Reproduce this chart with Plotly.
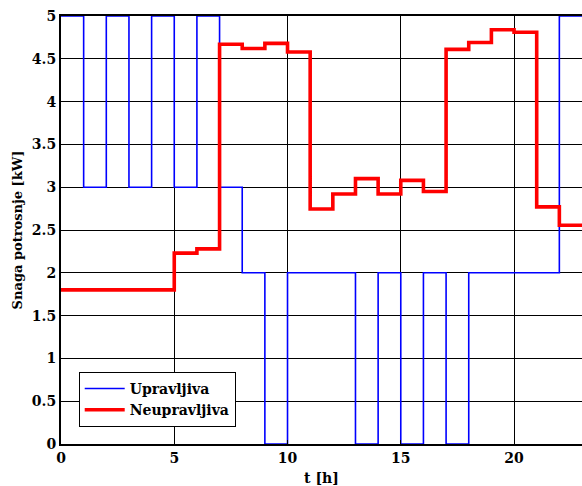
import plotly.graph_objects as go

# Hourly load profile: segment start hours and power per hour [kW]
hours = list(range(0, 24))
upravljiva = [5, 3, 5, 3, 5, 3, 5, 3, 2, 0, 2, 2, 2, 0, 2, 0, 2, 0, 2, 2, 2, 2, 5]
neupravljiva = [1.8, 1.8, 1.8, 1.8, 1.8, 2.23, 2.28, 4.67, 4.62, 4.68, 4.58,
                2.745, 2.92, 3.10, 2.92, 3.08, 2.95, 4.61, 4.69, 4.84, 4.81,
                2.77, 2.555]
x_ticks = [0, 5, 10, 15, 20]
y_ticks = [0, 0.5, 1, 1.5, 2, 2.5, 3, 3.5, 4, 4.5, 5]

# repeat last value so the final hour is drawn as a full step
up_y = upravljiva + [upravljiva[-1]]
ne_y = neupravljiva + [neupravljiva[-1]]

font_family = "DejaVu Serif"

fig = go.Figure()
fig.add_trace(go.Scatter(x=hours, y=up_y, mode="lines", line_shape="hv",
                         name="<b>Upravljiva</b>", line=dict(color="#0000ff", width=1.6)))
fig.add_trace(go.Scatter(x=hours, y=ne_y, mode="lines", line_shape="hv",
                         name="<b>Neupravljiva</b>", line=dict(color="#ff0000", width=3.6)))

fig.update_layout(
    width=582, height=486,
    margin=dict(l=61, r=0, t=16, b=42),
    paper_bgcolor="white", plot_bgcolor="white",
    font=dict(family=font_family, size=14, color="black"),
    showlegend=True,
    legend=dict(x=0.034, y=0.04, xanchor="left", yanchor="bottom",
                bgcolor="white", bordercolor="black", borderwidth=1,
                font=dict(family=font_family, size=14, color="black"),
                tracegroupgap=0, itemwidth=40),
    xaxis=dict(range=[0, 23], tickvals=x_ticks, ticktext=[f"<b>{v}</b>" for v in x_ticks],
               showgrid=True, gridcolor="black",
               gridwidth=1, showline=True, linecolor="black", linewidth=2, mirror=True,
               zeroline=False, ticks="inside", ticklen=4, tickcolor="black",
               tickfont=dict(family=font_family, size=14),
               title=dict(text="<b>t [h]</b>", font=dict(family=font_family, size=14),
                          standoff=8)),
    yaxis=dict(range=[0, 5], tickvals=y_ticks, ticktext=[f"<b>{v:g}</b>" for v in y_ticks],
               showgrid=True, gridcolor="black", gridwidth=1,
               showline=True, linecolor="black", linewidth=2, mirror=False,
               zeroline=False, ticks="inside", ticklen=4, tickcolor="black",
               tickfont=dict(family=font_family, size=14),
               title=dict(text="<b>Snaga potrosnje [kW]</b>",
                          font=dict(family=font_family, size=13),
                          standoff=6)),
)

fig.write_html("out.html")
